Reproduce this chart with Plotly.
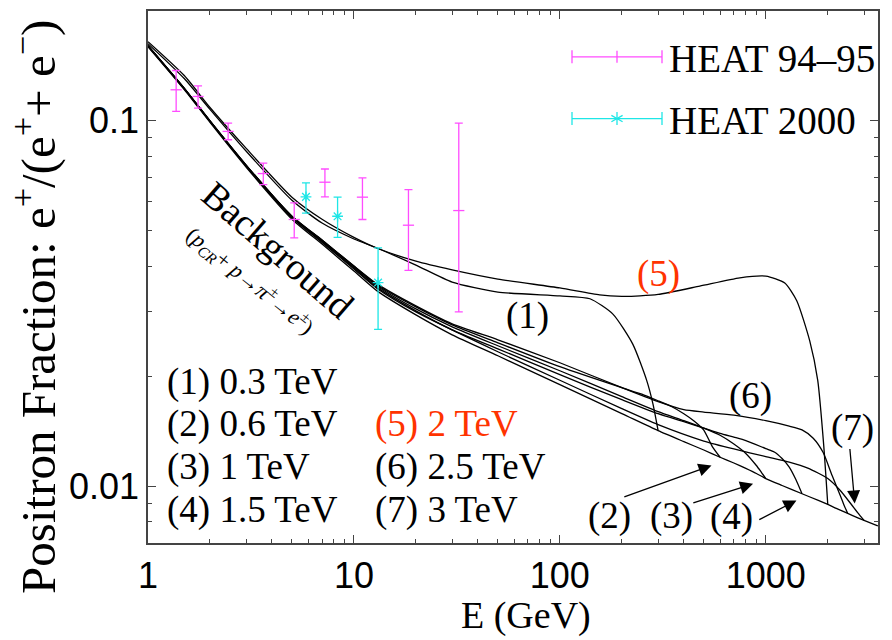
import plotly.graph_objects as go
import math

# ---------------- data ----------------
E_bg = [1, 1.5, 2, 3, 5, 7, 10, 13, 20, 30, 50, 100, 200, 300, 400, 500, 600, 700, 800, 900,
        1000, 1200, 1500, 1800, 2000, 2200, 2500, 2800, 3000, 3500]
f_bg = [0.1594, 0.1217, 0.09894, 0.07459, 0.05380, 0.0460, 0.03883, 0.0342, 0.02945, 0.02598,
        0.02277, 0.01898, 0.01582, 0.01421, 0.01326, 0.01258, 0.01202, 0.01159, 0.01120, 0.01085,
        0.01051, 0.01006, 0.00955, 0.00916, 0.00893, 0.00871, 0.00844, 0.00821, 0.00808, 0.00780]

E_c1 = [1, 1.5, 2, 3, 5, 7, 10, 13, 20, 30, 50, 100, 140, 181, 226, 264, 283, 300]
f_c1 = [0.1625, 0.1304, 0.1074, 0.0825, 0.0606, 0.0525, 0.0475, 0.0448, 0.0403, 0.0362, 0.0340,
        0.0332, 0.0326, 0.0296, 0.0245, 0.0195, 0.01684, 0.01421]

E_c2 = [1, 1.5, 2, 3, 5, 7, 10, 13, 20, 30, 50, 100, 200, 250, 300, 350, 400, 450, 500, 550, 600]
f_c2 = [0.1604, 0.1226, 0.09988, 0.07553, 0.05482, 0.04717, 0.04007, 0.03551, 0.03097, 0.02766,
        0.02471, 0.02125, 0.01862, 0.01788, 0.01715, 0.01652, 0.01581, 0.01508, 0.01426, 0.01285, 0.01202]

E_c3 = [1, 1.5, 2, 3, 5, 7, 10, 13, 20, 30, 50, 100, 200, 300, 400, 500, 600, 700, 800, 900, 950, 1000]
f_c3 = [0.1604, 0.1226, 0.09988, 0.07553, 0.05465, 0.04693, 0.03982, 0.03529, 0.03058, 0.02732,
        0.02425, 0.02072, 0.01760, 0.01601, 0.01513, 0.01444, 0.01380, 0.01306, 0.01231, 0.01141,
        0.01095, 0.01051]

E_c4 = [1, 1.5, 2, 3, 5, 7, 10, 13, 20, 30, 50, 100, 200, 300, 400, 500, 600, 700, 800, 1000,
        1100, 1200, 1300, 1400, 1500]
f_c4 = [0.1604, 0.1225, 0.09956, 0.07530, 0.05448, 0.04673, 0.03957, 0.03496, 0.03020, 0.02681,
        0.02379, 0.02021, 0.01727, 0.01581, 0.01503, 0.01444, 0.01397, 0.01364, 0.01335, 0.01269,
        0.01242, 0.01192, 0.01130, 0.01045, 0.00955]

E_c5 = [1, 1.5, 2, 3, 5, 7, 10, 13, 20, 30, 50, 100, 156, 200, 245, 300, 478, 748, 1000, 1237,
        1414, 1635, 1788, 1912, 2000]
f_c5 = [0.1645, 0.1329, 0.1087, 0.0840, 0.0618, 0.0538, 0.0480, 0.0448, 0.0413, 0.0391, 0.0369,
        0.0349, 0.0334, 0.0331, 0.0332, 0.0335, 0.0353, 0.0372, 0.0376, 0.0360, 0.0322, 0.0250,
        0.0195, 0.01293, 0.00893]

E_c6 = [1, 1.5, 2, 3, 5, 7, 10, 13, 20, 30, 50, 100, 200, 300, 400, 500, 700, 1000, 1300, 1500,
        1700, 1900, 2100, 2300, 2400, 2500]
f_c6 = [0.1604, 0.1226, 0.09988, 0.07553, 0.05482, 0.04717, 0.04007, 0.03574, 0.03116, 0.02784,
        0.02518, 0.02179, 0.01862, 0.01705, 0.01621, 0.01597, 0.01567, 0.01513, 0.01462, 0.01428,
        0.01355, 0.01238, 0.01071, 0.00945, 0.00889, 0.00844]

E_c7 = [1, 1.5, 2, 3, 5, 7, 10, 13, 20, 50, 100, 200, 300, 500, 700, 1000, 1300, 1600, 2000,
        2300, 2600, 2800, 3000]
f_c7 = [0.1599, 0.1222, 0.09956, 0.07506, 0.05431, 0.04649, 0.03932, 0.03474, 0.03001, 0.02335,
        0.01952, 0.01632, 0.01476, 0.01331, 0.01266, 0.01207, 0.01166, 0.01123, 0.01051, 0.00975,
        0.00894, 0.00847, 0.00808]

heat95_E = [1.37, 1.75, 2.45, 3.63, 5.13, 7.23, 11.0, 18.4, 32.3]
heat95_f = [0.1215, 0.1165, 0.0935, 0.0717, 0.0537, 0.0679, 0.0618, 0.0518, 0.0568]
heat95_hi = [0.1372, 0.1246, 0.0985, 0.0766, 0.0596, 0.0738, 0.0698, 0.0648, 0.0985]
heat95_lo = [0.1060, 0.1082, 0.0887, 0.0669, 0.0478, 0.0619, 0.0537, 0.0390, 0.0300]

heat00_E = [5.85, 8.33, 13.1]
heat00_f = [0.0619, 0.0548, 0.0361]
heat00_hi = [0.0676, 0.0618, 0.0449]
heat00_lo = [0.0559, 0.0480, 0.0269]

mass_labels = ["(1) 0.3 TeV", "(2) 0.6 TeV", "(3) 1 TeV", "(4) 1.5 TeV",
               "(5) 2 TeV", "(6) 2.5 TeV", "(7) 3 TeV"]

x_major = [1, 10, 100, 1000]
x_minor = [2, 3, 4, 5, 6, 7, 8, 9, 20, 30, 40, 50, 60, 70, 80, 90,
           200, 300, 400, 500, 600, 700, 800, 900, 2000, 3000]
y_major = [0.01, 0.1]
y_minor = [0.008, 0.009, 0.02, 0.03, 0.04, 0.05, 0.06, 0.07, 0.08, 0.09]

# ---------------- styling ----------------
W, H = 892, 640
L, R, T, B = 148, 14, 9, 97
PW, PH = W - L - R, H - T - B
SERIF = "'Liberation Serif', 'Times New Roman', Times, 'DejaVu Serif', serif"
SANS = "'Liberation Sans', Arial, Helvetica, sans-serif"
MAG = "#ff4cff"
CYA = "#1ee6e6"
RED = "#ff3300"

def px(x):
    return (x - L) / PW

def py(y):
    return (H - B - y) / PH

fig = go.Figure()
line = dict(color="black", width=1.3, shape="spline", smoothing=0.6)
for E, f in [(E_bg, f_bg), (E_c1, f_c1), (E_c2, f_c2), (E_c3, f_c3), (E_c4, f_c4),
             (E_c5, f_c5), (E_c6, f_c6), (E_c7, f_c7)]:
    fig.add_trace(go.Scatter(x=E, y=f, mode="lines", line=line, showlegend=False, hoverinfo="skip"))

fig.add_trace(go.Scatter(
    x=heat95_E, y=heat95_f, mode="markers", showlegend=False,
    marker=dict(symbol="line-ew", size=8, color=MAG, line=dict(color=MAG, width=1.3)),
    error_y=dict(type="data", symmetric=False,
                 array=[h - f for h, f in zip(heat95_hi, heat95_f)],
                 arrayminus=[f - l for l, f in zip(heat95_lo, heat95_f)],
                 color=MAG, thickness=1.3, width=4)))
fig.add_trace(go.Scatter(
    x=heat00_E, y=heat00_f, mode="markers", showlegend=False,
    marker=dict(symbol="asterisk-open", size=9, color=CYA, line=dict(color=CYA, width=1.3)),
    error_y=dict(type="data", symmetric=False,
                 array=[h - f for h, f in zip(heat00_hi, heat00_f)],
                 arrayminus=[f - l for l, f in zip(heat00_lo, heat00_f)],
                 color=CYA, thickness=1.3, width=4)))

shapes = []
# legend icons (horizontal error bars)
for yy, col in [(55, MAG), (117, CYA)]:
    shapes.append(dict(type="line", xref="paper", yref="paper", x0=px(572), x1=px(662),
                       y0=py(yy), y1=py(yy), line=dict(color=col, width=1.3)))
    for xx in (572, 662):
        shapes.append(dict(type="line", xref="paper", yref="paper", x0=px(xx), x1=px(xx),
                           y0=py(yy - 6.5), y1=py(yy + 6.5), line=dict(color=col, width=1.3)))
shapes.append(dict(type="line", xref="paper", yref="paper", x0=px(617), x1=px(617),
                   y0=py(49), y1=py(61), line=dict(color=MAG, width=1.3)))
for dx, dy in [(0, 6.5), (5.6, 3.2), (5.6, -3.2)]:
    shapes.append(dict(type="line", xref="paper", yref="paper", x0=px(617 - dx), x1=px(617 + dx),
                       y0=py(117 - dy), y1=py(117 + dy), line=dict(color=CYA, width=1.3)))

ann = []
def text(x, y, s, size=36, color="black", xanchor="left", family=SERIF, angle=0):
    ann.append(dict(x=px(x), y=py(y), xref="paper", yref="paper", text=s, showarrow=False,
                    xanchor=xanchor, yanchor="middle", textangle=angle,
                    font=dict(family=family, size=size, color=color)))

text(667, 57, "HEAT 94\u201395", 39)
text(667, 119, "HEAT 2000", 39)

rows = [381, 424, 467, 510]
for i, s in enumerate(mass_labels[:4]):
    text(165, rows[i], s, 37)
for i, s in enumerate(mass_labels[4:]):
    text(373, rows[i + 1], s, 37, RED if i == 0 else "black")

text(658, 273, "(5)", 37, RED, "center")
text(527, 315, "(1)", 37, "black", "center")
text(750, 395, "(6)", 37, "black", "center")
text(852, 428, "(7)", 37, "black", "center")
text(609, 516, "(2)", 37, "black", "center")
text(671, 516, "(3)", 37, "black", "center")
text(731, 517, "(4)", 37, "black", "center")

text(278, 249, "Background", 38, "black", "center", angle=41)
text(250, 280, "(<i>p</i><sub><i>CR</i></sub>+ <i>p</i>\u2192<i>\u03c0</i><sup>\u00b1</sup>\u2192<i>e</i><sup>\u00b1</sup>)",
     22, "black", "center", angle=39)

# axis titles
ann.append(dict(x=px(526), y=0, xref="paper", yref="paper", yshift=-(B - 1),
                text="E (GeV)", showarrow=False, xanchor="center", yanchor="bottom",
                font=dict(family=SERIF, size=38, color="black")))
ann.append(dict(x=px(35), y=py(306), xref="paper", yref="paper",
                text="Positron Fraction: e<sup>+</sup>/(e<sup>+</sup>+ e<sup>\u2212</sup>)",
                showarrow=False, textangle=-90, xanchor="center", yanchor="middle",
                font=dict(family=SERIF, size=49, color="black")))

# arrows (in axis coordinates: log10 values)
def lx(x):
    return (x - L) / 206.0

def ly(y):
    return -1 - (y - 119.3) / 366.7

for (hx, hy), (tx, ty) in [((711.7, 465), (623, 497)), ((753.3, 483.3), (692, 503)),
                           ((796.7, 500), (758, 520)), ((855, 503), (850, 447))]:
    ann.append(dict(x=lx(hx), y=ly(hy), ax=lx(tx), ay=ly(ty), xref="x", yref="y",
                    axref="x", ayref="y", text="", showarrow=True, arrowhead=2,
                    arrowsize=2, arrowwidth=1.3, arrowcolor="black"))

axis_common = dict(showgrid=False, zeroline=False, showline=True, linecolor="#444",
                   linewidth=1.5, mirror="allticks", ticks="inside", ticklen=8,
                   tickwidth=1.3, tickcolor="#444",
                   tickfont=dict(family=SANS, size=36, color="black"))

fig.update_layout(
    width=W, height=H, margin=dict(l=L, r=R, t=T, b=B, pad=0),
    paper_bgcolor="white", plot_bgcolor="white",
    xaxis=dict(type="log", range=[0, 3.545], tickvals=x_major,
               ticktext=[str(v) for v in x_major],
               minor=dict(ticks="inside", ticklen=4, tickwidth=1, tickcolor="#444",
                          tickvals=x_minor, showgrid=False),
               **axis_common),
    yaxis=dict(type="log", range=[-2.1546, -0.700], tickvals=y_major,
               ticktext=["0.01", "0.1"],
               minor=dict(ticks="inside", ticklen=4, tickwidth=1, tickcolor="#444",
                          tickvals=y_minor, showgrid=False),
               **axis_common),
    shapes=shapes, annotations=ann, showlegend=False,
)

fig.write_html("out.html")
